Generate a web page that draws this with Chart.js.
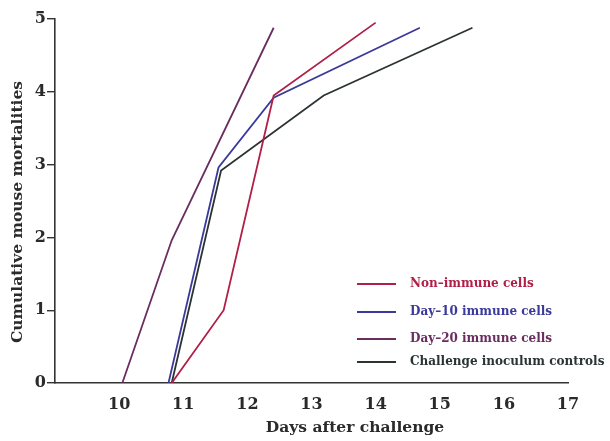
<!DOCTYPE html>
<html>
<head>
<meta charset="utf-8">
<script src="https://cdn.jsdelivr.net/npm/chart.js@4.4.1/dist/chart.umd.min.js"></script>
<style>
  html, body { margin: 0; padding: 0; background: #fff; }
  #wrap { width: 610px; height: 441px; }
</style>
</head>
<body>
<div id="wrap"><canvas id="myChart"></canvas></div>
<script>
// days after challenge / cumulative deaths
const nonImmuneDays = [10.82, 11.63, 12.41, 14.0];
const nonImmuneDeaths = [0, 1.0, 3.95, 4.95];
const day10Days = [10.77, 11.55, 12.41, 14.69];
const day10Deaths = [0, 2.96, 3.92, 4.88];
const day20Days = [10.05, 10.82, 12.41];
const day20Deaths = [0, 1.96, 4.88];
const controlDays = [10.82, 11.59, 13.19, 15.51];
const controlDeaths = [0, 2.92, 3.95, 4.88];

const xTicks = [10, 11, 12, 13, 14, 15, 16, 17];
const yTicks = [0, 1, 2, 3, 4, 5];

const xTitle = 'Days after challenge';
const yTitle = 'Cumulative mouse mortalities';
const seriesNames = ['Non\u2013immune cells', 'Day\u201310 immune cells', 'Day\u201320 immune cells', 'Challenge inoculum controls'];
const seriesColors = ['#b01f48', '#3b3a9a', '#6a2d5e', '#2b3335'];

const FONT = '"DejaVu Serif", "Liberation Serif", serif';
const INK = '#2a2a2a';

function toPoints(xs, ys) {
    return xs.map((x, i) => ({ x: x, y: ys[i] }));
}

const allSeries = [
    toPoints(nonImmuneDays, nonImmuneDeaths),
    toPoints(day10Days, day10Deaths),
    toPoints(day20Days, day20Deaths),
    toPoints(controlDays, controlDeaths)
];

// legend in the lower right of the plot + axis titles (placed off-centre like the original)
const textPlugin = {
    id: 'extraText',
    afterDraw(chart) {
        const ctx = chart.ctx;
        const rows = [284, 312, 339, 362];
        ctx.save();
        ctx.font = 'bold 12px ' + FONT;
        ctx.textBaseline = 'middle';
        seriesNames.forEach((name, i) => {
            ctx.strokeStyle = seriesColors[i];
            ctx.lineWidth = 2;
            ctx.beginPath();
            ctx.moveTo(357, rows[i]);
            ctx.lineTo(396, rows[i]);
            ctx.stroke();
            ctx.fillStyle = seriesColors[i];
            ctx.fillText(name, 410, rows[i]);
        });

        ctx.fillStyle = INK;
        ctx.font = 'bold 15.5px ' + FONT;
        ctx.textAlign = 'center';
        ctx.fillText(xTitle, 355, 428);

        ctx.translate(18, 212);
        ctx.rotate(-Math.PI / 2);
        ctx.fillText(yTitle, 0, 0);
        ctx.restore();
    }
};

const ctx = document.getElementById('myChart').getContext('2d');
new Chart(ctx, {
    type: 'line',
    data: {
        datasets: allSeries.map((pts, i) => ({
            label: seriesNames[i],
            data: pts,
            borderColor: seriesColors[i],
            borderWidth: 1.8,
            pointRadius: 0,
            fill: false,
            tension: 0
        }))
    },
    options: {
        responsive: true,
        maintainAspectRatio: false,
        animation: false,
        layout: { padding: { top: 19, right: 42, left: 0, bottom: 0 } },
        plugins: {
            legend: { display: false },
            tooltip: { enabled: false }
        },
        scales: {
            x: {
                type: 'linear',
                min: 9,
                max: 17,
                afterBuildTicks: s => { s.ticks = xTicks.map(v => ({ value: v })); },
                afterFit: s => { s.height = 58; },
                grid: { display: false },
                border: { display: true, color: '#333', width: 1.6 },
                ticks: { color: INK, font: { family: FONT, size: 16, weight: 'bold' }, padding: 4, maxRotation: 0 }
            },
            y: {
                min: 0,
                max: 5,
                afterBuildTicks: s => { s.ticks = yTicks.map(v => ({ value: v })); },
                afterFit: s => { s.width = 55; },
                grid: { drawOnChartArea: false, drawTicks: true, tickLength: 8, color: '#333', lineWidth: 1.4 },
                border: { display: true, color: '#333', width: 1.6 },
                ticks: { color: INK, font: { family: FONT, size: 16, weight: 'bold' }, padding: 1 }
            }
        }
    },
    plugins: [textPlugin]
});
</script>
</body>
</html>
